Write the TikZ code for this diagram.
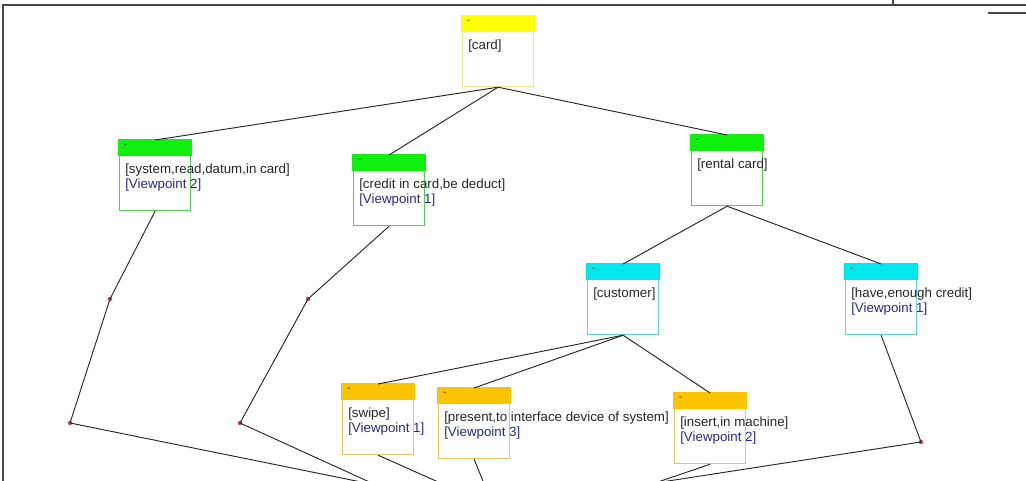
\documentclass[tikz,border=0pt]{standalone}
\usepackage{fontspec}
\setmainfont{Liberation Sans}
\usetikzlibrary{calc,positioning}

\definecolor{cardhead}{RGB}{255,255,0}
\definecolor{cardline}{RGB}{240,232,130}
\definecolor{greenhead}{RGB}{15,240,15}
\definecolor{greenline}{RGB}{85,205,85}
\definecolor{cyanhead}{RGB}{0,232,236}
\definecolor{cyanline}{RGB}{95,212,222}
\definecolor{goldhead}{RGB}{250,196,0}
\definecolor{goldline}{RGB}{228,202,95}
\definecolor{vpblue}{RGB}{40,40,140}
\definecolor{bendred}{RGB}{205,70,100}
\definecolor{framegray}{RGB}{70,70,70}

\tikzset{
  box/.style={draw=#1, line width=0.9pt, minimum width=53.25pt, minimum height=52.5pt, anchor=north west, inner sep=0pt},
  hdmark/.style={anchor=north west, inner sep=0pt, font=\fontsize{8}{8}\selectfont, text=black!75},
  boxtext/.style={anchor=north west, inner sep=0pt, align=left, font=\fontsize{10}{11.3}\selectfont, text=black!85},
  bendpt/.style={circle, fill=bendred, inner sep=0pt, minimum size=3.4pt},
  link/.style={line width=0.7pt, black!85}
}

\begin{document}
\begin{tikzpicture}[x=0.75pt,y=0.75pt,yscale=-1,xscale=1]
\useasboundingbox (0,0) rectangle (1026,481);
\clip (0,0) rectangle (1026,481);

%Frame
\draw[framegray, line width=0.8pt] (3,481) -- (3,5) -- (1026,5);
\draw[framegray, line width=0.8pt] (893,0) -- (893,5);
\draw[framegray, line width=1.5pt] (988,13) -- (1026,13);

%Shape: Boxes
\node[box=cardline] (card) at (462,16) {};
\node[box=greenline] (sys) at (119,140) {};
\node[box=greenline] (credit) at (353,155) {};
\node[box=greenline] (rental) at (691,135) {};
\node[box=cyanline] (cust) at (587,264) {};
\node[box=cyanline] (have) at (845,264) {};
\node[box=goldline] (swipe) at (342,384) {};
\node[box=goldline] (present) at (438,388) {};
\node[box=goldline] (insert) at (674,393) {};

%Shape: Headers
\fill[cardhead] ([shift={(-0.45pt,-0.45pt)}]card.north west) rectangle ([shift={(0.45pt,12pt)}]card.north east);
\fill[greenhead] ([shift={(-0.45pt,-0.45pt)}]sys.north west) rectangle ([shift={(0.45pt,12pt)}]sys.north east);
\fill[greenhead] ([shift={(-0.45pt,-0.45pt)}]credit.north west) rectangle ([shift={(0.45pt,12pt)}]credit.north east);
\fill[greenhead] ([shift={(-0.45pt,-0.45pt)}]rental.north west) rectangle ([shift={(0.45pt,12pt)}]rental.north east);
\fill[cyanhead] ([shift={(-0.45pt,-0.45pt)}]cust.north west) rectangle ([shift={(0.45pt,12pt)}]cust.north east);
\fill[cyanhead] ([shift={(-0.45pt,-0.45pt)}]have.north west) rectangle ([shift={(0.45pt,12pt)}]have.north east);
\fill[goldhead] ([shift={(-0.45pt,-0.45pt)}]swipe.north west) rectangle ([shift={(0.45pt,12pt)}]swipe.north east);
\fill[goldhead] ([shift={(-0.45pt,-0.45pt)}]present.north west) rectangle ([shift={(0.45pt,12pt)}]present.north east);
\fill[goldhead] ([shift={(-0.45pt,-0.45pt)}]insert.north west) rectangle ([shift={(0.45pt,12pt)}]insert.north east);

% Header marks
\node[hdmark] (cardd) at ([xshift=3.5pt,yshift=3pt]card.north west) {-};
\node[hdmark] (sysd) at ([xshift=3.5pt,yshift=3pt]sys.north west) {-};
\node[hdmark] (creditd) at ([xshift=3.5pt,yshift=3pt]credit.north west) {-};
\node[hdmark] (rentald) at ([xshift=3.5pt,yshift=3pt]rental.north west) {-};
\node[hdmark] (custd) at ([xshift=3.5pt,yshift=3pt]cust.north west) {-};
\node[hdmark] (haved) at ([xshift=3.5pt,yshift=3pt]have.north west) {-};
\node[hdmark] (swiped) at ([xshift=3.5pt,yshift=3pt]swipe.north west) {-};
\node[hdmark] (presentd) at ([xshift=3.5pt,yshift=3pt]present.north west) {-};
\node[hdmark] (insertd) at ([xshift=3.5pt,yshift=3pt]insert.north west) {-};

% Text Nodes
\node[boxtext] (cardt) at ([xshift=4.5pt,yshift=17.5pt]card.north west) {[card]};
\node[boxtext] (syst) at ([xshift=4.5pt,yshift=17.5pt]sys.north west) {[system,read,datum,in card]\\\textcolor{vpblue}{[Viewpoint 2]}};
\node[boxtext] (creditt) at ([xshift=4.5pt,yshift=17.5pt]credit.north west) {[credit in card,be deduct]\\\textcolor{vpblue}{[Viewpoint 1]}};
\node[boxtext] (rentalt) at ([xshift=4.5pt,yshift=17.5pt]rental.north west) {[rental card]};
\node[boxtext] (custt) at ([xshift=4.5pt,yshift=17.5pt]cust.north west) {[customer]};
\node[boxtext] (havet) at ([xshift=4.5pt,yshift=17.5pt]have.north west) {[have,enough credit]\\\textcolor{vpblue}{[Viewpoint 1]}};
\node[boxtext] (swipet) at ([xshift=4.5pt,yshift=17.5pt]swipe.north west) {[swipe]\\\textcolor{vpblue}{[Viewpoint 1]}};
\node[boxtext] (presentt) at ([xshift=4.5pt,yshift=17.5pt]present.north west) {[present,to interface device of system]\\\textcolor{vpblue}{[Viewpoint 3]}};
\node[boxtext] (insertt) at ([xshift=4.5pt,yshift=17.5pt]insert.north west) {[insert,in machine]\\\textcolor{vpblue}{[Viewpoint 2]}};

% Bend points and ends below the frame
\node[bendpt] (b1) at (110,299) {};
\node[bendpt] (b2) at (70,423) {};
\node[bendpt] (b3) at (308,299) {};
\node[bendpt] (b4) at (240,423) {};
\node[bendpt] (b5) at (921,442) {};
\coordinate (sinkL) at (376,485);
\coordinate (sinkS) at (445,485);
\coordinate (sinkP) at (485,486);
\coordinate (sinkR) at (655,483);

% Connectors
\draw[link] (card.south) -- (sys.north);
\draw[link] (card.south) -- (credit.north);
\draw[link] (card.south) -- (rental.north);
\draw[link] (rental.south) -- (cust.north);
\draw[link] (rental.south) -- (have.north);
\draw[link] (cust.south) -- (swipe.north);
\draw[link] (cust.south) -- (present.north);
\draw[link] (cust.south) -- (insert.north);
\draw[link] (sys.south) -- (b1.center) -- (b2.center) -- (sinkL);
\draw[link] (credit.south) -- (b3.center) -- (b4.center) -- (sinkL);
\draw[link] (have.south) -- (b5.center) -- (sinkR);
\draw[link] (insert.south) -- (sinkR);
\draw[link] (swipe.south) -- (sinkS);
\draw[link] (present.south) -- (sinkP);

\end{tikzpicture}
\end{document}
